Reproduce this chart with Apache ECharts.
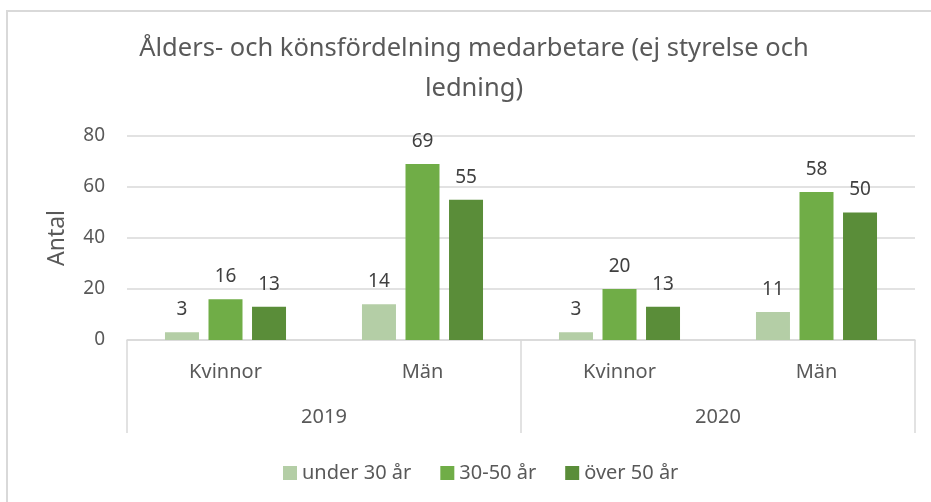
<!DOCTYPE html>
<html>
<head>
<meta charset="utf-8">
<script src="https://cdn.jsdelivr.net/npm/echarts@6/dist/echarts.min.js"></script>
<style>
  html, body { margin: 0; padding: 0; background: #fff; }
  #chart { width: 931px; height: 502px; }
</style>
</head>
<body>
<div id="chart"></div>
<script>
// data
var groups = ["Kvinnor", "Män", "Kvinnor", "Män"];
var years = ["2019", "2020"];
var under30 = [3, 14, 3, 11];
var mid3050 = [16, 69, 20, 58];
var over50 = [13, 55, 13, 50];
var seriesNames = ["under 30 år", "30-50 år", "över 50 år"];
var colors = ["#b4cea6", "#70ad47", "#5a8d39"];

var font = "Noto Sans";
var gridColor = "#d9d9d9";

function barSeries(name, values, color) {
    return {
        name: name,
        type: "bar",
        data: values,
        barWidth: 34,
        barGap: "28%",
        itemStyle: { color: color },
        label: {
            show: true,
            position: "top",
            distance: 13,
            color: "#404040",
            fontFamily: font,
            fontSize: 19
        }
    };
}

var myChart = echarts.init(document.getElementById("chart"));
myChart.setOption({
    animation: false,
    color: colors,
    title: {
        text: "Ålders- och könsfördelning medarbetare (ej styrelse och\nledning)",
        left: 469,
        textAlign: "center",
        top: 24,
        textStyle: {
            fontFamily: font,
            fontWeight: "normal",
            fontSize: 25.5,
            color: "#595959",
            lineHeight: 40
        }
    },
    graphic: [{
        type: "rect",
        shape: { x: 7, y: 11, width: 940, height: 520 },
        style: { fill: "none", stroke: gridColor, lineWidth: 2 },
        silent: true
    }],
    legend: {
        left: 278,
        top: 458,
        itemWidth: 14,
        itemHeight: 14,
        itemGap: 29,
        icon: "rect",
        data: seriesNames,
        textStyle: { fontFamily: font, fontSize: 20, color: "#595959" }
    },
    grid: { left: 127, right: 16, top: 136, bottom: 162 },
    xAxis: [
        {
            type: "category",
            data: groups,
            position: "bottom",
            axisLine: { show: true, lineStyle: { color: gridColor, width: 1.5 } },
            axisTick: { show: false },
            axisLabel: { margin: 22, fontFamily: font, fontSize: 20, color: "#595959" }
        },
        {
            type: "category",
            data: years,
            position: "bottom",
            axisLine: { show: false },
            axisTick: { show: true, length: 93, interval: 0, lineStyle: { color: gridColor, width: 1.5 } },
            axisLabel: { margin: 67, fontFamily: font, fontSize: 20, color: "#595959" }
        }
    ],
    yAxis: {
        type: "value",
        min: 0,
        max: 80,
        interval: 20,
        name: "Antal",
        nameLocation: "middle",
        nameGap: 58,
        nameTextStyle: { fontFamily: font, fontSize: 23, color: "#595959" },
        axisLine: { show: false },
        axisTick: { show: false },
        axisLabel: { margin: 22, fontFamily: font, fontSize: 19, color: "#595959" },
        splitLine: { lineStyle: { color: gridColor, width: 1.5 } }
    },
    series: [
        barSeries(seriesNames[0], under30, colors[0]),
        barSeries(seriesNames[1], mid3050, colors[1]),
        barSeries(seriesNames[2], over50, colors[2])
    ]
});
</script>
</body>
</html>
